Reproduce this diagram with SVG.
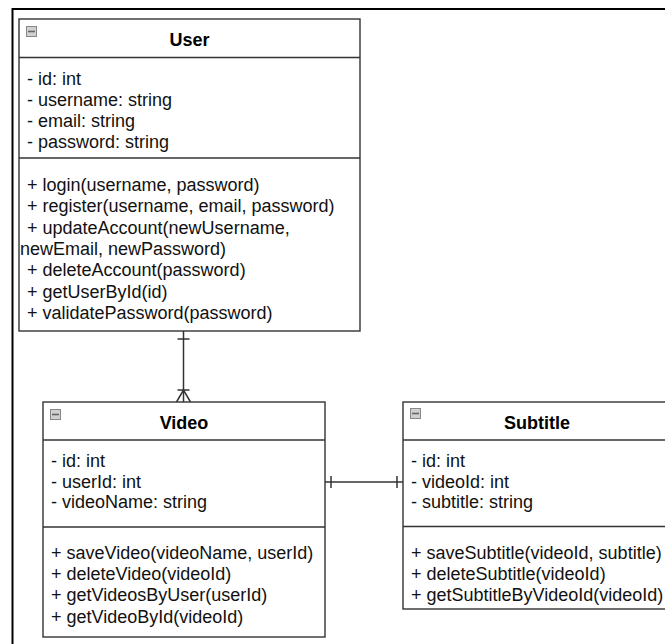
<svg xmlns="http://www.w3.org/2000/svg" width="665" height="644" viewBox="0 0 665 644">
<style>
.box{fill:#fff;stroke:#333;stroke-width:1.4}
.sep{stroke:#333;stroke-width:1.4;fill:none}
.t{font-family:"Liberation Sans",Arial,sans-serif;font-size:18px;fill:#111}
.h{font-family:"Liberation Sans",Arial,sans-serif;font-size:18px;font-weight:bold;fill:#000;text-anchor:middle}
.ic{fill:#d0d0d0;stroke:#888;stroke-width:1}
.icl{stroke:#666;stroke-width:1.6}
.c{stroke:#333;stroke-width:1.5;fill:none}
</style>
<rect width="665" height="644" fill="#fff"/>
<path d="M12.5,644 V9 H665" fill="none" stroke="#000" stroke-width="2"/>

<g id="connectors">
  <line class="c" x1="183.5" y1="331" x2="183.5" y2="402"/>
  <line class="c" x1="177.5" y1="339" x2="189.5" y2="339"/>
  <line class="c" x1="177.5" y1="390" x2="189.5" y2="390"/>
  <path class="c" d="M176.5,402 L183.5,390 L190.5,402"/>
  <line class="c" x1="325" y1="482" x2="403" y2="482"/>
  <line class="c" x1="331" y1="476" x2="331" y2="488"/>
  <line class="c" x1="397" y1="476" x2="397" y2="488"/>
</g>

<g id="User">
  <rect class="box" x="19" y="19" width="341" height="312"/>
  <line class="sep" x1="19" y1="57.5" x2="360" y2="57.5"/>
  <line class="sep" x1="19" y1="158" x2="360" y2="158"/>
  <rect class="ic" x="26.5" y="26.5" width="10" height="10"/>
  <line class="icl" x1="28" y1="31.5" x2="35" y2="31.5"/>
  <text class="h" x="189.5" y="45.5">User</text>
  <text class="t" x="27" y="85">- id: int</text>
  <text class="t" x="27" y="106">- username: string</text>
  <text class="t" x="27" y="127">- email: string</text>
  <text class="t" x="27" y="148">- password: string</text>
  <text class="t" x="27" y="191">+ login(username, password)</text>
  <text class="t" x="27" y="212.3">+ register(username, email, password)</text>
  <text class="t" x="27" y="233.6">+ updateAccount(newUsername,</text>
  <text class="t" x="20" y="254.9">newEmail, newPassword)</text>
  <text class="t" x="27" y="276.2">+ deleteAccount(password)</text>
  <text class="t" x="27" y="297.5">+ getUserById(id)</text>
  <text class="t" x="27" y="318.8">+ validatePassword(password)</text>
</g>

<g id="Video">
  <rect class="box" x="43" y="402" width="282" height="235"/>
  <line class="sep" x1="43" y1="440" x2="325" y2="440"/>
  <line class="sep" x1="43" y1="527" x2="325" y2="527"/>
  <rect class="ic" x="50.5" y="409.5" width="10" height="10"/>
  <line class="icl" x1="52" y1="414.5" x2="59" y2="414.5"/>
  <text class="h" x="184" y="429">Video</text>
  <text class="t" x="51" y="467">- id: int</text>
  <text class="t" x="51" y="487.5">- userId: int</text>
  <text class="t" x="51" y="508">- videoName: string</text>
  <text class="t" x="51" y="558.7">+ saveVideo(videoName, userId)</text>
  <text class="t" x="51" y="580">+ deleteVideo(videoId)</text>
  <text class="t" x="51" y="601.3">+ getVideosByUser(userId)</text>
  <text class="t" x="51" y="622.6">+ getVideoById(videoId)</text>
</g>

<g id="Subtitle">
  <rect class="box" x="403" y="402" width="268" height="207"/>
  <line class="sep" x1="403" y1="440" x2="671" y2="440"/>
  <line class="sep" x1="403" y1="526.5" x2="671" y2="526.5"/>
  <rect class="ic" x="410.5" y="408.5" width="10" height="10"/>
  <line class="icl" x1="412" y1="413.5" x2="419" y2="413.5"/>
  <text class="h" x="537" y="429">Subtitle</text>
  <text class="t" x="411" y="467">- id: int</text>
  <text class="t" x="411" y="487.5">- videoId: int</text>
  <text class="t" x="411" y="508">- subtitle: string</text>
  <text class="t" x="411" y="558.7">+ saveSubtitle(videoId, subtitle)</text>
  <text class="t" x="411" y="580">+ deleteSubtitle(videoId)</text>
  <text class="t" x="411" y="601.3">+ getSubtitleByVideoId(videoId)</text>
</g>
</svg>
